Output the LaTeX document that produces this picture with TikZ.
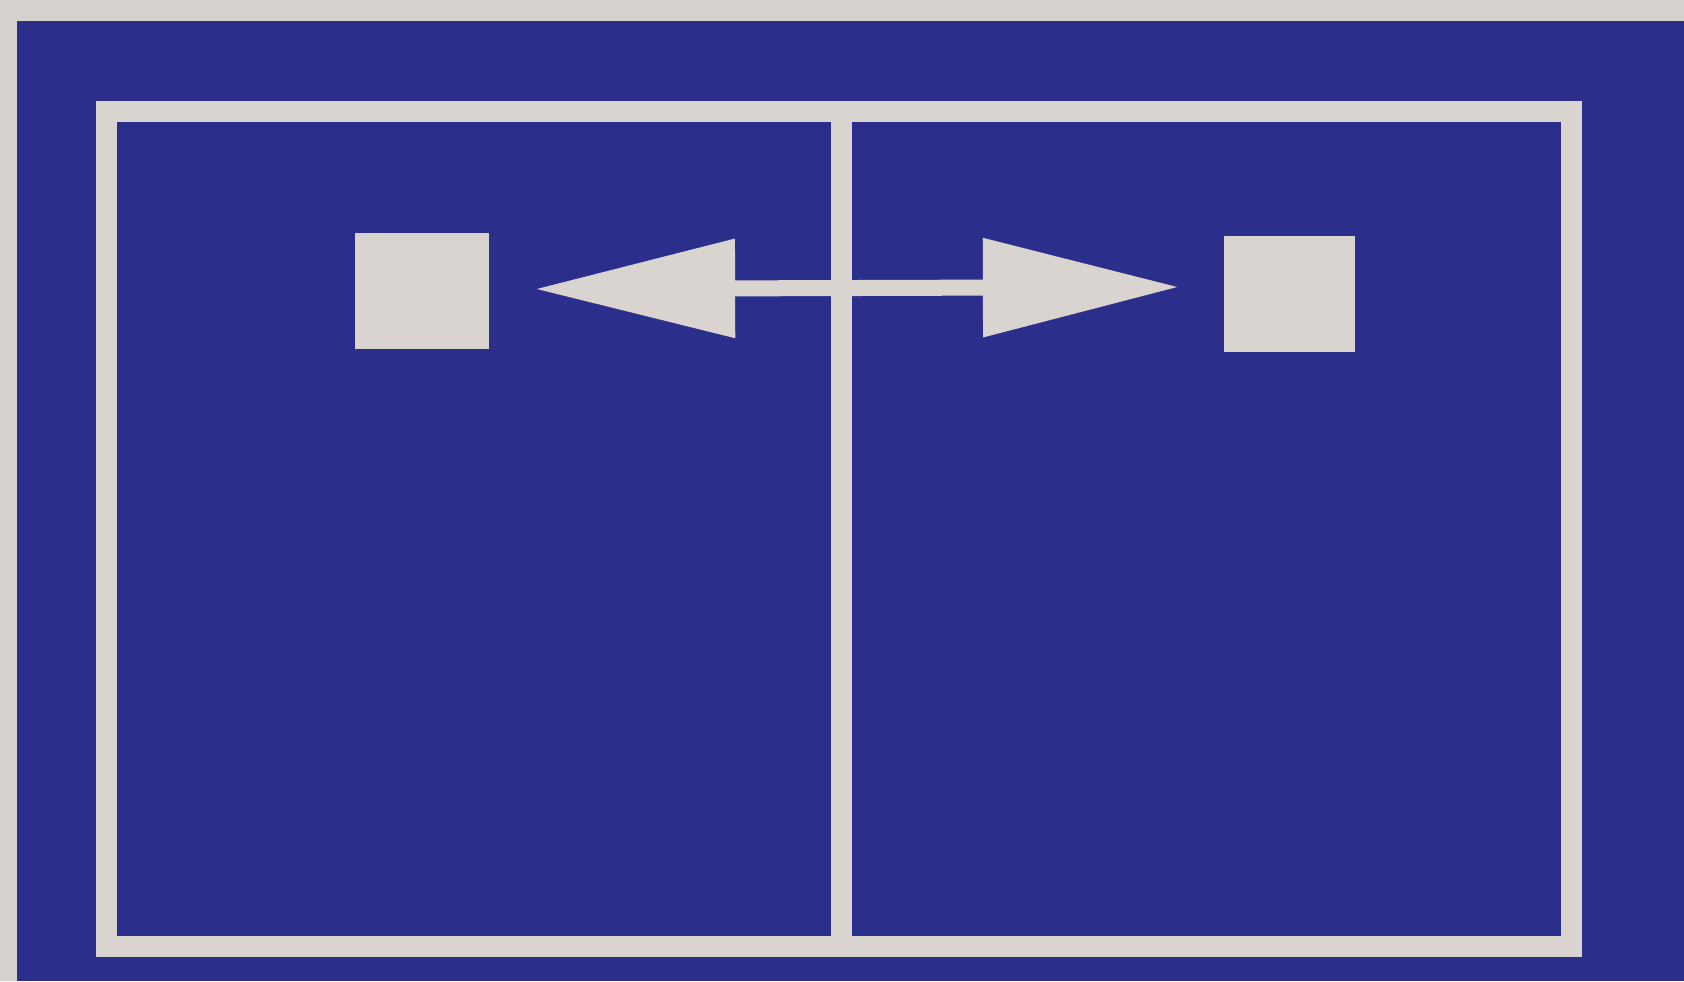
\documentclass[tikz,border=0pt]{standalone}
\usetikzlibrary{arrows.meta}
\definecolor{bgblue}{RGB}{43,46,138}
\definecolor{paper}{RGB}{218,212,208}
\definecolor{edge}{RGB}{214,209,204}
\begin{document}
\begin{tikzpicture}[x=0.01cm,y=-0.01cm,
  frameline/.style={draw=paper,line width=0.21cm},
  block/.style={fill=paper,draw=none,inner sep=0pt,minimum height=1.15cm},
  bigarrow/.style={draw=paper,line width=0.16cm,
    {Triangle[length=2.0cm,width=0.95cm]}-{Triangle[length=1.96cm,width=0.95cm]}}]
\fill[edge] (0,0) rectangle (1684,981);
\useasboundingbox (0,0) rectangle (1684,981);
\fill[bgblue] (17,21) rectangle (1684,981);
% outer frame and divider
\draw[frameline] (106.5,111.5) rectangle (1571,946.5);
\coordinate (dtop) at (841,111.5);
\coordinate (dbot) at (841,946.5);
\draw[frameline] (dtop) -- (dbot);
% squares
\node[block,minimum width=1.34cm] (sqL) at (422,291) {};
\node[block,minimum width=1.31cm] (sqR) at (1289.5,294) {};
% double arrow
\coordinate (tipL) at (535,289);
\coordinate (tipR) at (1179,287);
\draw[bigarrow] (tipL) -- (tipR);
\end{tikzpicture}
\end{document}
